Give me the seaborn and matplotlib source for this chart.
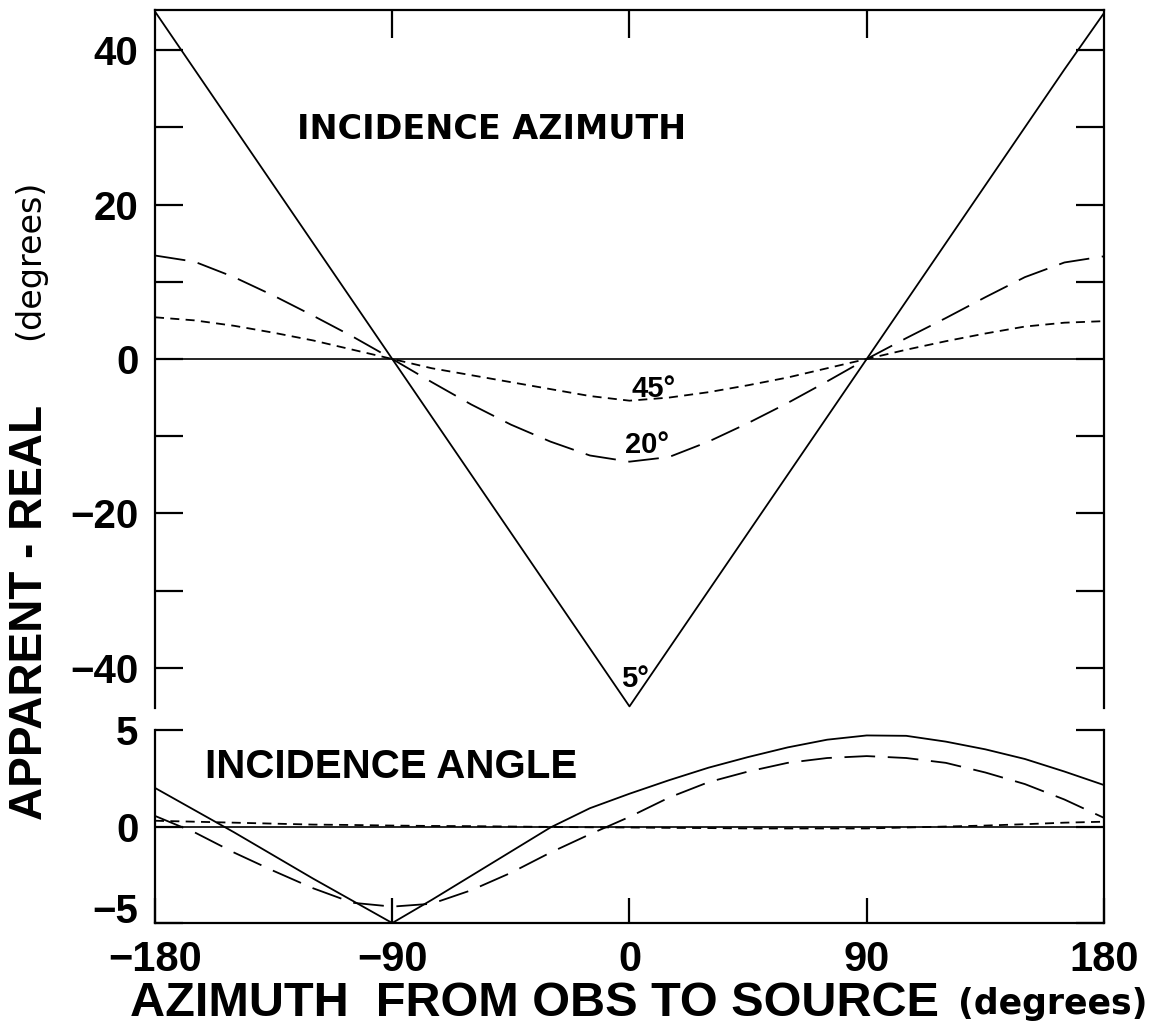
import numpy as np
import pandas as pd
import matplotlib
matplotlib.use("Agg")
import matplotlib.pyplot as plt
import seaborn as sns

# ==============================
# DATI
# ==============================
azimuth = [-180, -165, -150, -135, -120, -105, -90, -75, -60, -45, -30, -15, 0,
           15, 30, 45, 60, 75, 90, 105, 120, 135, 150, 165, 180]

# pannello superiore: incidence azimuth (apparent - real)
az_5 = [45.0, 37.5, 30.0, 22.5, 15.0, 7.5, 0.0, -7.5, -15.0, -22.5, -30.0, -37.5, -45.0,
        -37.5, -30.0, -22.5, -15.0, -7.5, 0.0, 7.5, 15.0, 22.5, 30.0, 37.5, 44.8]
az_20 = [13.4, 12.6, 10.6, 8.2, 5.6, 2.9, 0.0, -3.0, -5.9, -8.5, -10.7, -12.5, -13.3,
         -12.7, -10.7, -8.3, -5.7, -2.9, 0.0, 2.7, 5.3, 8.0, 10.6, 12.5, 13.3]
az_45 = [5.4, 5.0, 4.3, 3.4, 2.4, 1.2, 0.0, -1.2, -2.1, -3.0, -3.9, -4.8, -5.4,
         -5.0, -4.3, -3.4, -2.4, -1.2, 0.0, 1.2, 2.3, 3.3, 4.2, 4.7, 4.9]

# pannello inferiore: incidence angle (apparent - real)
ang_5 = [2.0, 0.85, -0.3, -1.5, -2.7, -3.85, -5.0, -3.8, -2.55, -1.3, -0.05, 0.95, 1.7,
         2.4, 3.05, 3.6, 4.1, 4.5, 4.72, 4.7, 4.4, 4.0, 3.5, 2.85, 2.15]
ang_20 = [0.55, -0.3, -1.35, -2.3, -3.2, -3.95, -4.15, -4.0, -3.3, -2.4, -1.35, -0.4, 0.5,
          1.5, 2.3, 2.85, 3.3, 3.55, 3.65, 3.55, 3.3, 2.8, 2.2, 1.4, 0.45]
ang_45 = [0.3, 0.25, 0.2, 0.15, 0.1, 0.08, 0.05, 0.03, 0.02, 0.0, -0.02, -0.04, -0.05,
          -0.07, -0.08, -0.1, -0.1, -0.1, -0.1, -0.05, 0.0, 0.05, 0.12, 0.2, 0.25]

angles = ["5°", "20°", "45°"]

top_df = pd.DataFrame({
    "azimuth": azimuth * 3,
    "diff": az_5 + az_20 + az_45,
    "angle": [a for a in angles for _ in azimuth],
})
bot_df = pd.DataFrame({
    "azimuth": azimuth * 3,
    "diff": ang_5 + ang_20 + ang_45,
    "angle": [a for a in angles for _ in azimuth],
})

# ==============================
# STILE
# ==============================
sns.set_style("ticks")
plt.rcParams["font.family"] = ["Liberation Sans", "DejaVu Sans"]
plt.rcParams.update({
    "axes.linewidth": 1.6,
    "axes.edgecolor": "black",
    "text.color": "black",
    "xtick.color": "black",
    "ytick.color": "black",
})

colori = {"5°": "black", "20°": "black", "45°": "black"}
tratteggi = {"5°": "", "20°": (17, 7), "45°": (5, 3.5)}

fig = plt.figure(figsize=(11.55, 10.32), dpi=100)
ax_top = fig.add_axes([0.1342, 0.3140, 0.8216, 0.6763])
ax_bot = fig.add_axes([0.1342, 0.1056, 0.8216, 0.1870])

for ax, df in [(ax_top, top_df), (ax_bot, bot_df)]:
    ax.axhline(0, color="black", lw=1.2)
    sns.lineplot(
        data=df, x="azimuth", y="diff",
        hue="angle", style="angle",
        palette=colori, dashes=tratteggi,
        linewidth=1.3, estimator=None, sort=False,
        legend=False, ax=ax
    )
    ax.set_xlim(-180, 180)
    ax.set_xlabel("")
    ax.set_ylabel("")

# ==============================
# PANNELLO SUPERIORE
# ==============================
ax_top.set_ylim(-45.2, 45.2)
ax_top.spines["bottom"].set_visible(False)
ax_top.set_yticks(
    [-40, -30, -20, -10, 0, 10, 20, 30, 40],
    labels=["−40", "", "−20", "", "0", "", "20", "", "40"]
)
ax_top.tick_params(axis="y", direction="in", length=20, width=1.6,
                   left=True, right=True, labelsize=29, pad=12)
ax_top.set_xticks([-90, 0, 90])
ax_top.tick_params(axis="x", direction="in", length=20, width=1.6,
                   top=True, bottom=False, labeltop=False, labelbottom=False)
plt.setp(ax_top.get_yticklabels(), fontweight="bold")

ax_top.text(-126, 29.7, "INCIDENCE AZIMUTH", fontsize=24, family="DejaVu Sans",
            fontweight="bold", ha="left", va="center")
ax_top.text(9, -3.9, "45°", fontsize=21, fontweight="bold", ha="center", va="center")
ax_top.text(6.5, -11.1, "20°", fontsize=21, fontweight="bold", ha="center", va="center")
ax_top.text(2.0, -41.5, "5°", fontsize=21, fontweight="bold", ha="center", va="center")

# ==============================
# PANNELLO INFERIORE
# ==============================
ax_bot.set_ylim(-5, 5)
ax_bot.spines["top"].set_visible(False)
ax_bot.set_yticks([-5, 0, 5], labels=["−5", "0", "5"])
ax_bot.tick_params(axis="y", direction="in", length=20, width=1.6,
                   left=True, right=True, labelsize=29, pad=12)
ax_bot.set_xticks([-180, -90, 0, 90, 180],
                  labels=["−180", "−90", "0", "90", "180"])
ax_bot.tick_params(axis="x", direction="in", length=18, width=1.6,
                   top=False, bottom=True, labelsize=30, pad=12)
plt.setp(ax_bot.get_yticklabels(), fontweight="bold")
plt.setp(ax_bot.get_xticklabels(), fontweight="bold")
ax_bot.get_yticklabels()[0].set_va("baseline")

ax_bot.text(-161, 3.1, "INCIDENCE ANGLE", fontsize=29,
            fontweight="bold", ha="left", va="center")

# ==============================
# ETICHETTE ASSI
# ==============================
fig.text(0.026, 1 - 612 / 1032, "APPARENT - REAL", rotation=90,
         fontsize=33, fontweight="bold", ha="center", va="center")
fig.text(0.026, 1 - 260 / 1032, "(degrees)", rotation=90, family="DejaVu Sans",
         fontsize=24, ha="center", va="center")
fig.text(130 / 1155, 1 - 1004 / 1032, "AZIMUTH  FROM OBS TO SOURCE",
         fontsize=35, fontweight="bold", ha="left", va="center")
fig.text(958 / 1155, 1 - 1004 / 1032, "(degrees)", family="DejaVu Sans",
         fontsize=25, fontweight="bold", ha="left", va="center")

fig.savefig("out.png", dpi=100)
